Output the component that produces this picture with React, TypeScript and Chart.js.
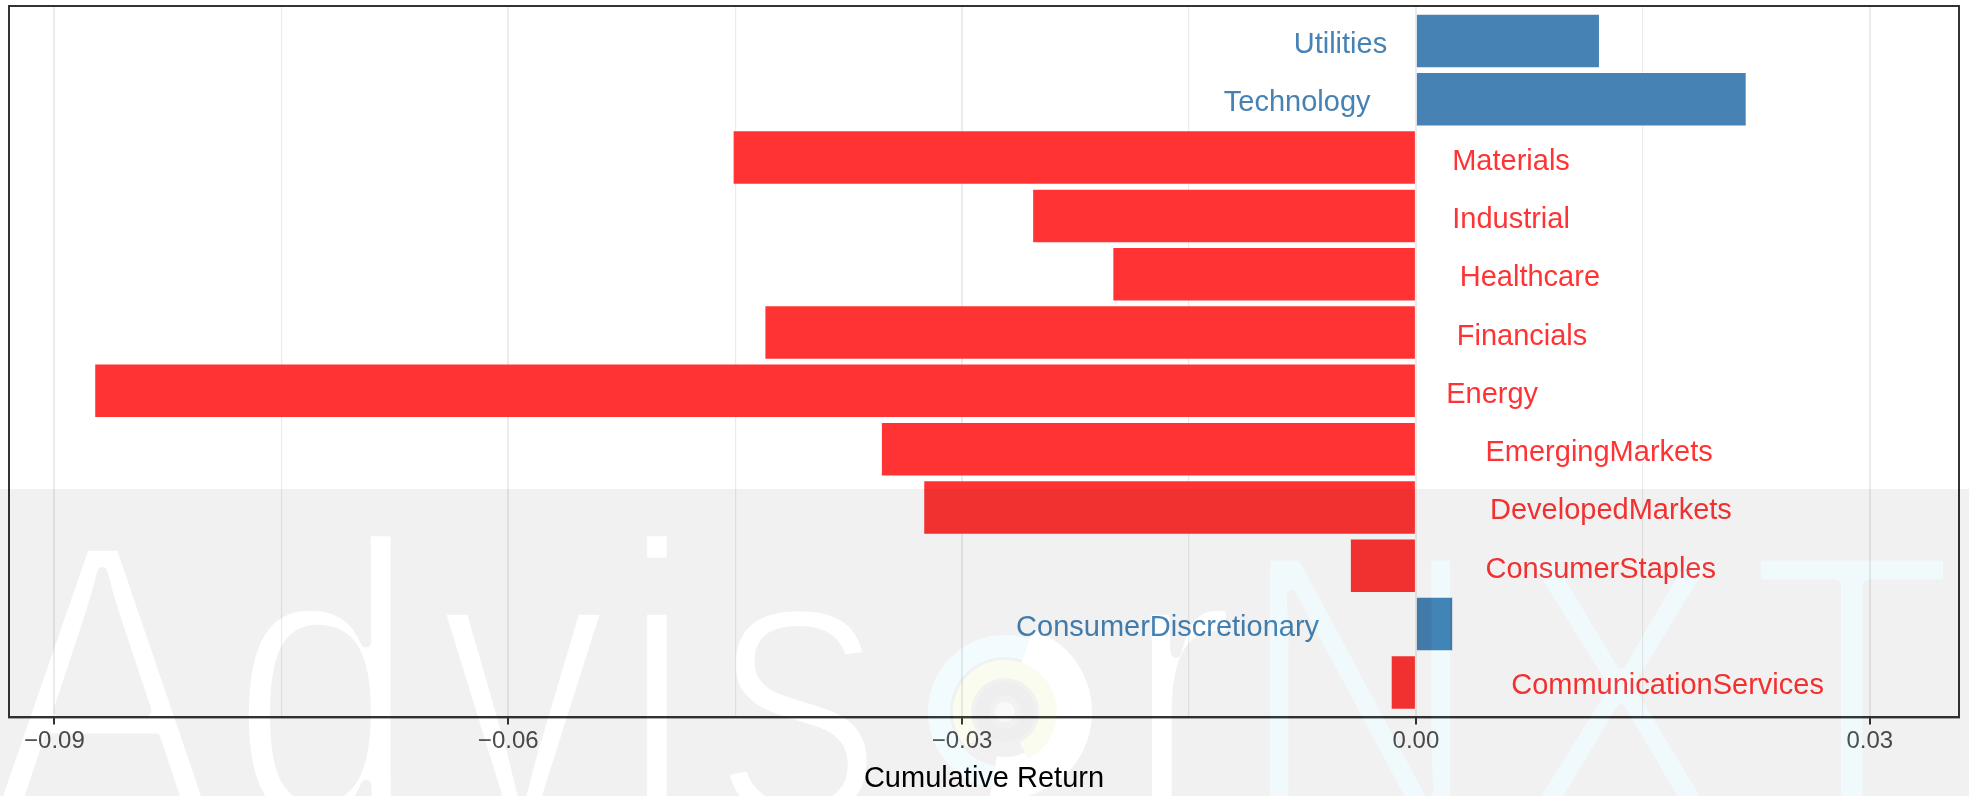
import { useEffect, useRef } from 'react';
import { Chart, registerables } from 'chart.js';

Chart.register(...registerables);

// ---------- data ----------
const CATEGORIES = [
  'CommunicationServices',
  'ConsumerDiscretionary',
  'ConsumerStaples',
  'DevelopedMarkets',
  'EmergingMarkets',
  'Energy',
  'Financials',
  'Healthcare',
  'Industrial',
  'Materials',
  'Technology',
  'Utilities',
];
const RETURNS = [-0.0016, 0.0024, -0.0043, -0.0325, -0.0353, -0.0873, -0.043, -0.02, -0.0253, -0.0451, 0.0218, 0.0121];
// anchor (in data units) of each text label
const LABEL_X = [0.0063, -0.0064, 0.0046, 0.0049, 0.0046, 0.002, 0.0027, 0.0029, 0.0024, 0.0024, -0.003, -0.0019];
const MAJOR_TICKS = [-0.09, -0.06, -0.03, 0, 0.03];
const MINOR_TICKS = [-0.075, -0.045, -0.015, 0.015];
const X_MIN = -0.093;
const X_MAX = 0.0359;
const X_TITLE = 'Cumulative Return';

// ---------- styles ----------
const W = 1969;
const H = 796;
const FONT = '"Liberation Sans", Arial, Helvetica, sans-serif';
const POS_COLOR = '#4682B4';
const NEG_COLOR = '#FF3333';

const isMajor = (v: number) => MAJOR_TICKS.some((t) => Math.abs(t - v) < 1e-9);
const fmt = (v: number) => (Math.abs(v) < 1e-12 ? '0.00' : (v < 0 ? '\u2212' : '') + Math.abs(v).toFixed(2));

const labelPlugin = {
  id: 'barLabels',
  afterDatasetsDraw(chart: any) {
    const ctx = chart.ctx;
    const xs = chart.scales.x;
    const ys = chart.scales.y;
    ctx.save();
    ctx.font = `29px ${FONT}`;
    ctx.textBaseline = 'middle';
    CATEGORIES.forEach((name, i) => {
      const v = RETURNS[i];
      ctx.fillStyle = v >= 0 ? POS_COLOR : NEG_COLOR;
      ctx.textAlign = v >= 0 ? 'right' : 'left';
      ctx.fillText(name, xs.getPixelForValue(LABEL_X[i]), ys.getPixelForValue(i) + 4);
    });
    ctx.restore();
  },
};

function makeCanvas() {
  const c = document.createElement('canvas');
  c.width = W;
  c.height = H;
  return c;
}

function drawGlyphs(c: CanvasRenderingContext2D, glyphs: { ch: string; x: number }[], base: number, erode: number) {
  c.font = `400px ${FONT}`;
  c.textAlign = 'center';
  c.textBaseline = 'alphabetic';
  glyphs.forEach((g) => {
    c.save();
    c.translate(g.x, base);
    c.scale(0.85, 1);
    c.globalCompositeOperation = 'source-over';
    c.fillStyle = '#fff';
    c.fillText(g.ch, 0, 0);
    c.globalCompositeOperation = 'destination-out';
    c.lineWidth = erode;
    c.lineJoin = 'round';
    c.strokeStyle = '#000';
    c.strokeText(g.ch, 0, 0);
    c.restore();
  });
}

const watermarkPlugin = {
  id: 'watermark',
  afterDraw(chart: any) {
    const ctx = chart.ctx;
    const a = chart.chartArea;
    // panel border
    ctx.save();
    ctx.strokeStyle = '#333333';
    ctx.lineWidth = 2;
    ctx.strokeRect(a.left, a.top, a.right - a.left, a.bottom - a.top);
    ctx.restore();

    const bandTop = 489;
    const white = makeCanvas();
    const wctx = white.getContext('2d')!;
    drawGlyphs(
      wctx,
      [
        { ch: 'A', x: 102 },
        { ch: 'd', x: 324 },
        { ch: 'v', x: 523 },
        { ch: 'i', x: 657 },
        { ch: 's', x: 799 },
        { ch: 'r', x: 1180 },
      ],
      820,
      12
    );
    const cyan = makeCanvas();
    const cctx = cyan.getContext('2d')!;
    drawGlyphs(
      cctx,
      [
        { ch: 'N', x: 1360 },
        { ch: 'X', x: 1620 },
        { ch: 'T', x: 1852 },
      ],
      830,
      12
    );

    const ov = makeCanvas();
    const o = ov.getContext('2d')!;
    o.fillStyle = 'rgba(0,0,0,0.055)';
    o.fillRect(0, bandTop, W, H - bandTop);
    o.globalCompositeOperation = 'destination-out';
    o.drawImage(white, 0, 0);
    o.drawImage(cyan, 0, 0);

    // logo "o"
    const cx = 1005;
    const cy = 712;
    const arc = (r: number, w: number, a0: number, a1: number, style: string) => {
      o.beginPath();
      o.arc(cx, cy, r, a0, a1);
      o.lineWidth = w;
      o.strokeStyle = style;
      o.stroke();
    };
    arc(66, 42, -1.25, 1.75, '#000');
    arc(66, 22, 1.75, 5.03, '#000');
    arc(43, 18, 2.4, 7.4, '#000');
    o.beginPath();
    o.arc(cx, cy, 10, 0, Math.PI * 2);
    o.fillStyle = 'rgba(0,0,0,0.6)';
    o.fill();

    o.globalCompositeOperation = 'source-over';
    arc(66, 22, 1.75, 5.03, 'rgba(0,170,220,0.05)');
    arc(43, 18, 2.4, 7.4, 'rgba(170,210,0,0.06)');
    arc(23, 14, 0, Math.PI * 2, 'rgba(0,0,0,0.015)');

    // cyan tint of "NXT"
    const tint = makeCanvas();
    const t = tint.getContext('2d')!;
    t.drawImage(cyan, 0, 0);
    t.globalCompositeOperation = 'source-in';
    t.fillStyle = 'rgba(0,170,220,0.06)';
    t.fillRect(0, 0, W, H);
    o.drawImage(tint, 0, 0);

    ctx.save();
    ctx.setTransform(1, 0, 0, 1, 0, 0);
    ctx.drawImage(ov, 0, 0);
    ctx.restore();
  },
};

export default function App() {
  const ref = useRef<HTMLCanvasElement>(null);

  useEffect(() => {
    document.body.style.margin = '0';
    const allTicks = [...MAJOR_TICKS, ...MINOR_TICKS].sort((p, q) => p - q);
    const chart = new Chart(ref.current!, {
      type: 'bar',
      data: {
        datasets: [
          {
            data: RETURNS.map((v, i) => ({ x: v, y: i })),
            backgroundColor: RETURNS.map((v) => (v >= 0 ? POS_COLOR : NEG_COLOR)),
            borderWidth: 0,
            barPercentage: 0.9,
            categoryPercentage: 1,
          } as any,
        ],
      },
      options: {
        indexAxis: 'y',
        animation: false,
        responsive: false,
        devicePixelRatio: 1,
        events: [],
        layout: { padding: { left: 9, right: 10, top: 6, bottom: 0 } },
        plugins: { legend: { display: false }, tooltip: { enabled: false } },
        scales: {
          x: {
            type: 'linear',
            position: 'bottom',
            min: X_MIN,
            max: X_MAX,
            afterBuildTicks: (scale: any) => {
              scale.ticks = allTicks.map((v) => ({ value: v }));
            },
            grid: {
              color: '#ebebeb',
              lineWidth: (c: any) => (c.tick && isMajor(c.tick.value) ? 2 : 1.2),
              tickLength: 7,
              tickWidth: 2,
              tickColor: (c: any) => (c.tick && isMajor(c.tick.value) ? '#333333' : 'rgba(0,0,0,0)'),
            },
            border: { display: true, color: '#333333', width: 2 },
            ticks: {
              autoSkip: false,
              maxRotation: 0,
              padding: 3,
              color: '#4d4d4d',
              font: { family: FONT, size: 24 },
              callback: (v: any) => (isMajor(Number(v)) ? fmt(Number(v)) : ''),
            },
            title: {
              display: true,
              text: X_TITLE,
              color: '#000000',
              font: { family: FONT, size: 29 },
              padding: { top: 2, bottom: 0 },
            },
          },
          y: {
            type: 'linear',
            min: -0.6,
            max: CATEGORIES.length - 1 + 0.6,
            offset: false,
            display: false,
            afterBuildTicks: (scale: any) => {
              scale.ticks = CATEGORIES.map((_, i) => ({ value: i }));
            },
          } as any,
        },
      },
      plugins: [labelPlugin, watermarkPlugin],
    });
    return () => chart.destroy();
  }, []);

  return (
    <div style={{ width: W, height: H }}>
      <canvas ref={ref} width={W} height={H} style={{ display: 'block', width: W, height: H }} />
    </div>
  );
}
